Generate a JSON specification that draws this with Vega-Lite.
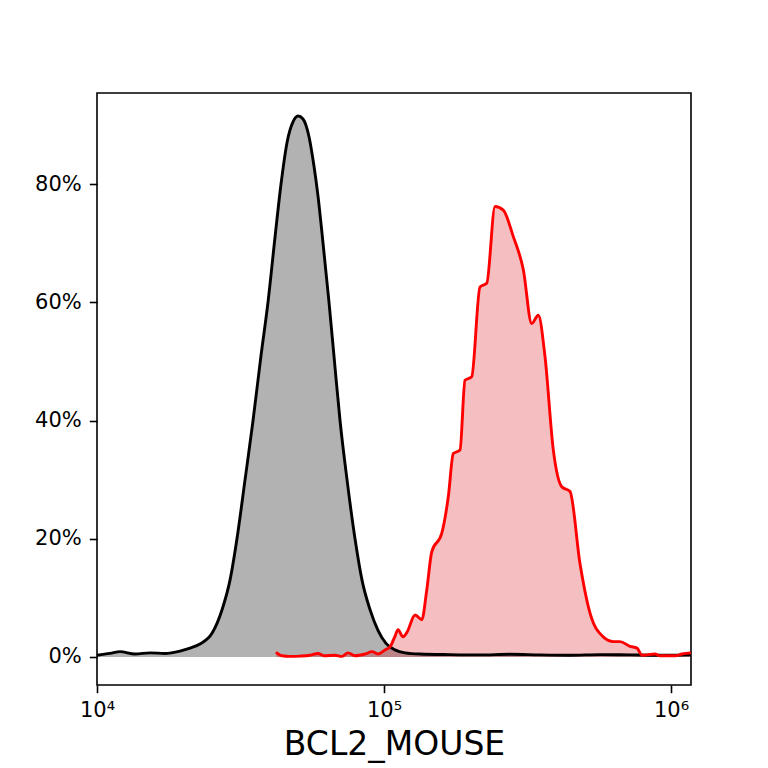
{
  "$schema": "https://vega.github.io/schema/vega-lite/v6.json",
  "width": 594,
  "height": 592,
  "autosize": {"type": "none"},
  "padding": {"left": 97, "top": 93, "right": 77, "bottom": 83},
  "background": "white",
  "config": {
    "font": "DejaVu Sans",
    "view": {"stroke": "black", "strokeWidth": 1.6},
    "axis": {
      "grid": false,
      "domain": false,
      "tickColor": "black",
      "tickSize": 7.7,
      "tickWidth": 1.6,
      "labelColor": "black",
      "labelFont": "DejaVu Sans",
      "labelFontSize": 21,
      "titleFont": "DejaVu Sans",
      "titleColor": "black",
      "titleFontWeight": "normal"
    }
  },
  "data": {
    "values": [
      {"sample": "ctrl", "x": 10000, "pct": 0.3},
      {"sample": "ctrl", "x": 11100, "pct": 0.6},
      {"sample": "ctrl", "x": 12030, "pct": 0.9},
      {"sample": "ctrl", "x": 13560, "pct": 0.5},
      {"sample": "ctrl", "x": 15300, "pct": 0.7},
      {"sample": "ctrl", "x": 17260, "pct": 0.6},
      {"sample": "ctrl", "x": 19460, "pct": 1.0},
      {"sample": "ctrl", "x": 21090, "pct": 1.5},
      {"sample": "ctrl", "x": 22850, "pct": 2.2},
      {"sample": "ctrl", "x": 25160, "pct": 4.0},
      {"sample": "ctrl", "x": 27270, "pct": 8.0},
      {"sample": "ctrl", "x": 29070, "pct": 13.0},
      {"sample": "ctrl", "x": 30740, "pct": 20.0},
      {"sample": "ctrl", "x": 32800, "pct": 30.0},
      {"sample": "ctrl", "x": 34970, "pct": 40.0},
      {"sample": "ctrl", "x": 37280, "pct": 51.0},
      {"sample": "ctrl", "x": 39430, "pct": 60.0},
      {"sample": "ctrl", "x": 41710, "pct": 71.0},
      {"sample": "ctrl", "x": 43770, "pct": 80.0},
      {"sample": "ctrl", "x": 45920, "pct": 87.0},
      {"sample": "ctrl", "x": 48180, "pct": 90.5},
      {"sample": "ctrl", "x": 50150, "pct": 91.5},
      {"sample": "ctrl", "x": 52210, "pct": 91.0},
      {"sample": "ctrl", "x": 54790, "pct": 88.0},
      {"sample": "ctrl", "x": 57030, "pct": 83.0},
      {"sample": "ctrl", "x": 58880, "pct": 78.0},
      {"sample": "ctrl", "x": 61310, "pct": 70.0},
      {"sample": "ctrl", "x": 64330, "pct": 60.0},
      {"sample": "ctrl", "x": 67500, "pct": 49.0},
      {"sample": "ctrl", "x": 70270, "pct": 40.0},
      {"sample": "ctrl", "x": 74320, "pct": 30.0},
      {"sample": "ctrl", "x": 79250, "pct": 20.0},
      {"sample": "ctrl", "x": 83830, "pct": 13.0},
      {"sample": "ctrl", "x": 89400, "pct": 8.0},
      {"sample": "ctrl", "x": 95300, "pct": 4.5},
      {"sample": "ctrl", "x": 101600, "pct": 2.3},
      {"sample": "ctrl", "x": 109200, "pct": 1.2},
      {"sample": "ctrl", "x": 118400, "pct": 0.7},
      {"sample": "ctrl", "x": 133500, "pct": 0.5},
      {"sample": "ctrl", "x": 169800, "pct": 0.4},
      {"sample": "ctrl", "x": 216000, "pct": 0.35},
      {"sample": "ctrl", "x": 274800, "pct": 0.45},
      {"sample": "ctrl", "x": 349700, "pct": 0.35},
      {"sample": "ctrl", "x": 444800, "pct": 0.3},
      {"sample": "ctrl", "x": 565600, "pct": 0.4},
      {"sample": "ctrl", "x": 719600, "pct": 0.35},
      {"sample": "ctrl", "x": 915600, "pct": 0.3},
      {"sample": "ctrl", "x": 1174000, "pct": 0.35},
      {"sample": "bcl2", "x": 42050, "pct": 0.8},
      {"sample": "bcl2", "x": 44120, "pct": 0.2},
      {"sample": "bcl2", "x": 47040, "pct": 0.1},
      {"sample": "bcl2", "x": 50970, "pct": 0.15},
      {"sample": "bcl2", "x": 55230, "pct": 0.3},
      {"sample": "bcl2", "x": 58880, "pct": 0.6},
      {"sample": "bcl2", "x": 61780, "pct": 0.2},
      {"sample": "bcl2", "x": 67500, "pct": 0.3},
      {"sample": "bcl2", "x": 71400, "pct": 0.1},
      {"sample": "bcl2", "x": 74910, "pct": 0.7},
      {"sample": "bcl2", "x": 79250, "pct": 0.2},
      {"sample": "bcl2", "x": 85860, "pct": 0.5},
      {"sample": "bcl2", "x": 90820, "pct": 0.9},
      {"sample": "bcl2", "x": 95300, "pct": 0.5},
      {"sample": "bcl2", "x": 100800, "pct": 1.2},
      {"sample": "bcl2", "x": 104900, "pct": 1.7},
      {"sample": "bcl2", "x": 109200, "pct": 3.5},
      {"sample": "bcl2", "x": 111900, "pct": 4.6},
      {"sample": "bcl2", "x": 116500, "pct": 3.4},
      {"sample": "bcl2", "x": 120300, "pct": 4.2},
      {"sample": "bcl2", "x": 128300, "pct": 7.1},
      {"sample": "bcl2", "x": 135400, "pct": 6.3},
      {"sample": "bcl2", "x": 140900, "pct": 11.3},
      {"sample": "bcl2", "x": 146700, "pct": 17.8},
      {"sample": "bcl2", "x": 158900, "pct": 20.9},
      {"sample": "bcl2", "x": 167500, "pct": 27.1},
      {"sample": "bcl2", "x": 174400, "pct": 34.4},
      {"sample": "bcl2", "x": 184000, "pct": 35.0},
      {"sample": "bcl2", "x": 191500, "pct": 46.8},
      {"sample": "bcl2", "x": 202100, "pct": 47.4},
      {"sample": "bcl2", "x": 216000, "pct": 62.6},
      {"sample": "bcl2", "x": 228000, "pct": 63.2},
      {"sample": "bcl2", "x": 243700, "pct": 76.2},
      {"sample": "bcl2", "x": 260400, "pct": 75.6},
      {"sample": "bcl2", "x": 282200, "pct": 71.1},
      {"sample": "bcl2", "x": 305800, "pct": 65.5},
      {"sample": "bcl2", "x": 327100, "pct": 56.4},
      {"sample": "bcl2", "x": 344800, "pct": 57.8},
      {"sample": "bcl2", "x": 363900, "pct": 50.8},
      {"sample": "bcl2", "x": 389000, "pct": 35.0},
      {"sample": "bcl2", "x": 416200, "pct": 28.8},
      {"sample": "bcl2", "x": 444800, "pct": 28.0},
      {"sample": "bcl2", "x": 481800, "pct": 15.8},
      {"sample": "bcl2", "x": 522200, "pct": 7.4},
      {"sample": "bcl2", "x": 580800, "pct": 3.4},
      {"sample": "bcl2", "x": 629500, "pct": 2.6},
      {"sample": "bcl2", "x": 664300, "pct": 2.6},
      {"sample": "bcl2", "x": 719600, "pct": 1.8},
      {"sample": "bcl2", "x": 761200, "pct": 1.5},
      {"sample": "bcl2", "x": 792500, "pct": 0.3},
      {"sample": "bcl2", "x": 879700, "pct": 0.5},
      {"sample": "bcl2", "x": 915600, "pct": 0.2},
      {"sample": "bcl2", "x": 1033000, "pct": 0.2},
      {"sample": "bcl2", "x": 1092000, "pct": 0.5},
      {"sample": "bcl2", "x": 1174000, "pct": 0.7}
    ]
  },
  "encoding": {
    "x": {
      "field": "x",
      "type": "quantitative",
      "scale": {"type": "log", "domain": [10000, 1174000], "nice": false},
      "axis": {
        "values": [10000, 100000, 1000000],
        "labelExpr": "datum.value == 10000 ? '10⁴' : datum.value == 100000 ? '10⁵' : '10⁶'",
        "labelFlush": false,
        "labelPadding": 7,
        "title": "BCL2_MOUSE",
        "titleFontSize": 33,
        "titlePadding": 8
      }
    },
    "y": {
      "field": "pct",
      "type": "quantitative",
      "scale": {"domain": [-4.74, 95.4], "nice": false, "zero": false},
      "axis": {
        "values": [0, 20, 40, 60, 80],
        "labelExpr": "datum.value + '%'",
        "labelPadding": 8,
        "title": null
      }
    },
    "y2": {"datum": 0}
  },
  "layer": [
    {
      "transform": [{"filter": "datum.sample == 'ctrl'"}],
      "mark": {"type": "area", "color": "black", "opacity": 0.3, "interpolate": "monotone", "clip": true}
    },
    {
      "transform": [{"filter": "datum.sample == 'bcl2'"}],
      "mark": {"type": "area", "color": "#d80008", "opacity": 0.25, "interpolate": "monotone", "clip": true}
    },
    {
      "transform": [{"filter": "datum.sample == 'ctrl'"}],
      "mark": {"type": "line", "color": "black", "strokeWidth": 2.9, "interpolate": "monotone", "clip": true},
      "encoding": {"y2": null}
    },
    {
      "transform": [{"filter": "datum.sample == 'bcl2'"}],
      "mark": {"type": "line", "color": "red", "strokeWidth": 2.9, "interpolate": "monotone", "clip": true},
      "encoding": {"y2": null}
    }
  ]
}
